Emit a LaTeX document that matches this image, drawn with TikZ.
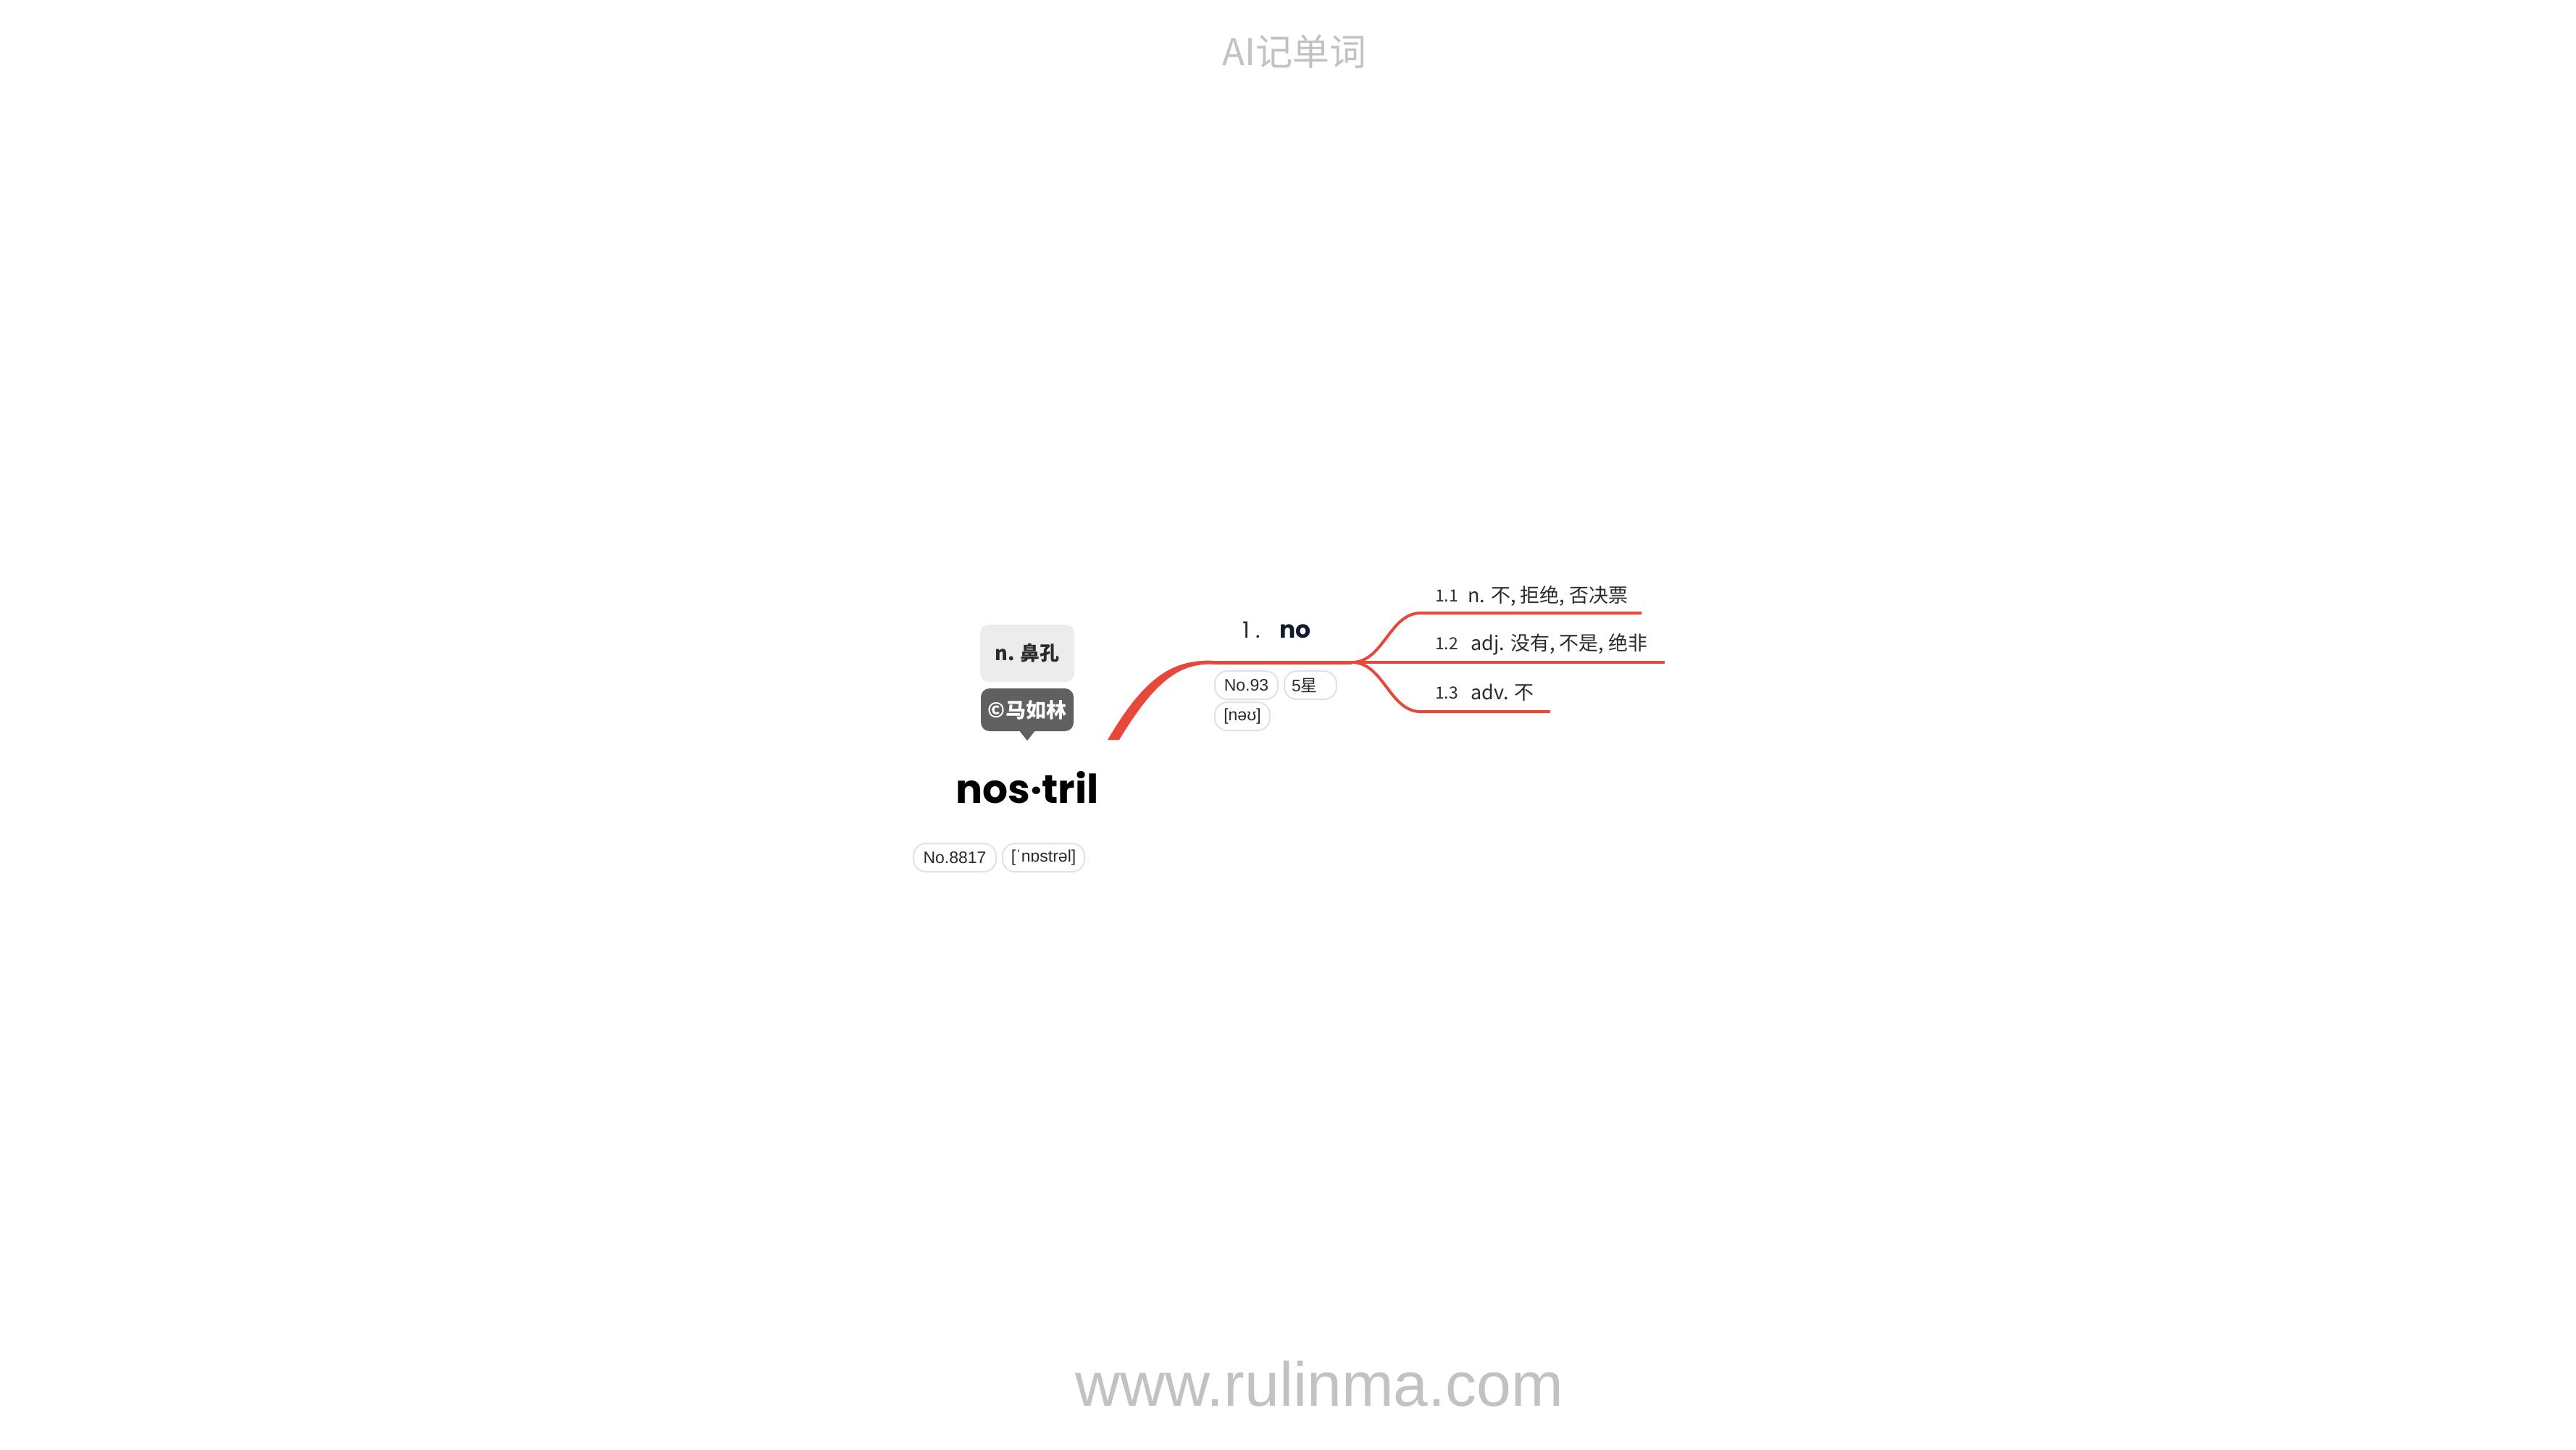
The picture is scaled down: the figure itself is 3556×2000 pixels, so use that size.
\documentclass[tikz,border=0pt]{standalone}
\usepackage{fontspec}
\setmainfont{Liberation Sans}
\newfontfamily\cjk{Noto Sans CJK SC}
\newfontfamily\pop{Poppins}
\definecolor{mmred}{HTML}{E8473C}
\definecolor{wmgray}{HTML}{C2C2C2}
\definecolor{txtdark}{HTML}{2B2B2B}
\definecolor{navy}{HTML}{101B2D}
\definecolor{boxlight}{HTML}{ECECEC}
\definecolor{boxdark}{HTML}{606060}
\definecolor{pillline}{HTML}{E2E2E2}
\tikzset{
  pill/.style={draw=pillline, line width=2, fill=white, rounded corners=17,
    inner xsep=10, inner ysep=0, minimum height=39, text=txtdark,
    font=\fontsize{23}{26}\selectfont, anchor=north west},
  branch/.style={draw=mmred, line width=4},
  lbl/.style={anchor=base west, inner sep=0, text=txtdark},
  numlbl/.style={lbl, font=\cjk\fontsize{23}{26}\selectfont},
  deflbl/.style={lbl, font=\cjk\fontsize{27}{30}\selectfont},
}
\begin{document}
\begin{tikzpicture}[x=1pt,y=-1pt]
\useasboundingbox[fill=white] (0,0) rectangle (3556,2000);

% watermark texts
\node[text=wmgray, inner sep=0, anchor=base] (title) at (1787,90)
  {\cjk\fontsize{51}{56}\selectfont AI记单词};
\node[text=wmgray, inner sep=0, anchor=base] (site) at (1821,1940)
  {\fontsize{86}{90}\selectfont www.rulinma.com};

% root word
\node[inner sep=0, anchor=base] (head) at (1418,1108)
  {\pop\bfseries\fontsize{55}{58}\selectfont nos·tril};
\node[pill, minimum width=114] (rnum) at (1260,1163) {No.8817};
\node[pill, minimum width=113] (rpho) at (1383,1163) {[ˈnɒstrəl]};

% definition box and copyright tag
\node[fill=boxlight, rounded corners=12, minimum width=130, minimum height=79,
  inner sep=0, text=txtdark] (def) at (1418,901.5)
  {\cjk\bfseries\fontsize{27}{30}\selectfont n. 鼻孔};
\node[fill=boxdark, rounded corners=12, minimum width=128, minimum height=59,
  inner sep=0, text=white] (copy) at (1418,979.5)
  {\cjk\bfseries\fontsize{28}{30}\selectfont ©马如林};
\fill[boxdark] ([xshift=-11pt,yshift=1pt]copy.south) -- ([yshift=-13pt]copy.south)
  -- ([xshift=11pt,yshift=1pt]copy.south) -- cycle;

% main branch
\coordinate (rootA) at (1529,1021);
\coordinate (rootB) at (1545,1021);
\coordinate (j0) at (1673,914);
\coordinate (j1) at (1866,914);
\fill[mmred] (rootA) .. controls (1585,925) and (1625,911.5) .. ([yshift=2.5pt]j0)
  -- ([yshift=-2.5pt]j0) .. controls (1630,916.5) and (1597,935) .. (rootB) -- cycle;
\draw[mmred, line width=5] (j0) -- (j1);

\node[inner sep=0, anchor=base west, text=txtdark] (s1) at (1715,880)
  {\pop\fontsize{31}{34}\selectfont 1 .};
\node[inner sep=0, anchor=base west, text=navy] (sw) at (1766,880)
  {\pop\bfseries\fontsize{33}{36}\selectfont no};
\node[pill, minimum width=87] (snum) at (1676,925) {No.93};
\node[pill] (sstar) at (1772,925) {5{\cjk 星}\hspace*{16pt}};
\node[pill, minimum width=76] (spho) at (1676,968) {[nəʊ]};

% sub branches
\coordinate (e1) at (2266,846);
\coordinate (e2) at (2298,914);
\coordinate (e3) at (2140,982);
\draw[branch] (j1) .. controls (1910,914) and (1918,846) .. (1961,846) -- (e1);
\draw[branch] (j1) -- (e2);
\draw[branch] (j1) .. controls (1910,914) and (1918,982) .. (1961,982) -- (e3);

\node[numlbl] (n1) at (1981,830) {1.1};
\node[deflbl] (d1) at (2026,831) {n. 不, 拒绝, 否决票};
\node[numlbl] (n2) at (1981,896) {1.2};
\node[deflbl] (d2) at (2030,897) {adj. 没有, 不是, 绝非};
\node[numlbl] (n3) at (1981,964) {1.3};
\node[deflbl] (d3) at (2030,965) {adv. 不};
\end{tikzpicture}
\end{document}
